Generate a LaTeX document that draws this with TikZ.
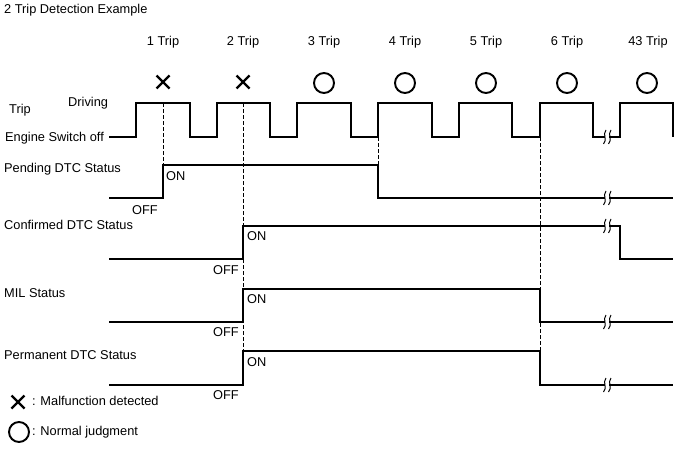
\documentclass[tikz,border=0pt]{standalone}
\usepackage{fontspec}
\setmainfont{Liberation Sans}
\tikzset{
  wave/.style={line width=1.3pt, line join=miter},
  guide/.style={line width=0.9pt, dash pattern=on 3.5pt off 2.5pt},
  lbl/.style={anchor=base west, inner sep=0pt, font=\fontsize{12.8}{14}\selectfont},
  triplbl/.style={anchor=base, inner sep=0pt, font=\fontsize{12.8}{14}\selectfont},
  brkmark/.pic={
    \fill[white] (-2.4,-5) rectangle (2.4,5);
    \draw[line width=1pt] (-1,-7) .. controls (-5,-2) and (1,2) .. (-3.5,7);
    \draw[line width=1pt] (4,-7) .. controls (0,-2) and (6,2) .. (1.5,7);
  },
  xmark/.pic={\draw[line width=2.3pt] (-6.5,-6.5) -- (6.5,6.5) (-6.5,6.5) -- (6.5,-6.5);},
  omark/.pic={\draw[line width=1.9pt] (0,0) circle[radius=10pt];}
}
\begin{document}
\begin{tikzpicture}[x=1pt,y=-1pt]
\useasboundingbox[fill=white] (0,0) rectangle (688,463);
% title
\node[lbl] (title) at (4,13) {2 Trip Detection Example};
% trip labels
\node[triplbl] (t1) at (163,45) {1 Trip};
\node[triplbl] (t2) at (243,45) {2 Trip};
\node[triplbl] (t3) at (324,45) {3 Trip};
\node[triplbl] (t4) at (405,45) {4 Trip};
\node[triplbl] (t5) at (486,45) {5 Trip};
\node[triplbl] (t6) at (567,45) {6 Trip};
\node[triplbl] (t43) at (648,45) {43 Trip};
% marks
\pic at (163,82) {xmark};
\pic at (243,82) {xmark};
\pic at (324,83) {omark};
\pic at (405,83) {omark};
\pic at (486,83) {omark};
\pic at (567,83) {omark};
\pic at (647,83) {omark};
% row labels
\node[lbl] (trip) at (9,113) {Trip};
\node[lbl] (driving) at (68,106) {Driving};
\node[lbl] (engoff) at (5,141) {Engine Switch off};
\node[lbl] (pend) at (4,172) {Pending DTC Status};
\node[lbl] (conf) at (4,229) {Confirmed DTC Status};
\node[lbl] (mil) at (4,297) {MIL Status};
\node[lbl] (perm) at (4,359) {Permanent DTC Status};
\node[lbl] (pon) at (166,180) {ON};
\node[lbl] (poff) at (132,214) {OFF};
\node[lbl] (con) at (247,240) {ON};
\node[lbl] (coff) at (213,274) {OFF};
\node[lbl] (mon) at (247,303) {ON};
\node[lbl] (moff) at (213,336) {OFF};
\node[lbl] (ron) at (247,366) {ON};
\node[lbl] (roff) at (213,399) {OFF};
% guides
\draw[guide] (163,103) -- (163,165);
\draw[guide] (243,103) -- (243,385);
\draw[guide] (378,137) -- (378,165);
\draw[guide] (540,137) -- (540,351);
% waveforms
\draw[wave] (109,137) -- (136,137) -- (136,103) -- (190,103) -- (190,137) -- (217,137) -- (217,103) -- (270,103) -- (270,137) -- (297,137) -- (297,103) -- (351,103) -- (351,137) -- (378,137) -- (378,103) -- (432,103) -- (432,137) -- (459,137) -- (459,103) -- (512,103) -- (512,137) -- (540,137) -- (540,103) -- (593,103) -- (593,137) -- (620,137) -- (620,103) -- (673,103) -- (673,137);
\draw[wave] (109,198) -- (163,198) -- (163,165) -- (378,165) -- (378,198) -- (673,198);
\draw[wave] (109,259) -- (243,259) -- (243,226) -- (620,226) -- (620,259) -- (673,259);
\draw[wave] (109,322) -- (243,322) -- (243,289) -- (540,289) -- (540,322) -- (673,322);
\draw[wave] (109,385) -- (243,385) -- (243,351) -- (540,351) -- (540,385) -- (673,385);
% breaks
\pic at (607,137) {brkmark};
\pic at (607,198) {brkmark};
\pic at (607,226) {brkmark};
\pic at (607,322) {brkmark};
\pic at (607,385) {brkmark};
% legend
\pic at (18,402) {xmark};
\node[lbl] (lgx) at (32,405) {: Malfunction detected};
\pic at (19,432) {omark};
\node[lbl] (lgo) at (32,435) {: Normal judgment};
\end{tikzpicture}
\end{document}
